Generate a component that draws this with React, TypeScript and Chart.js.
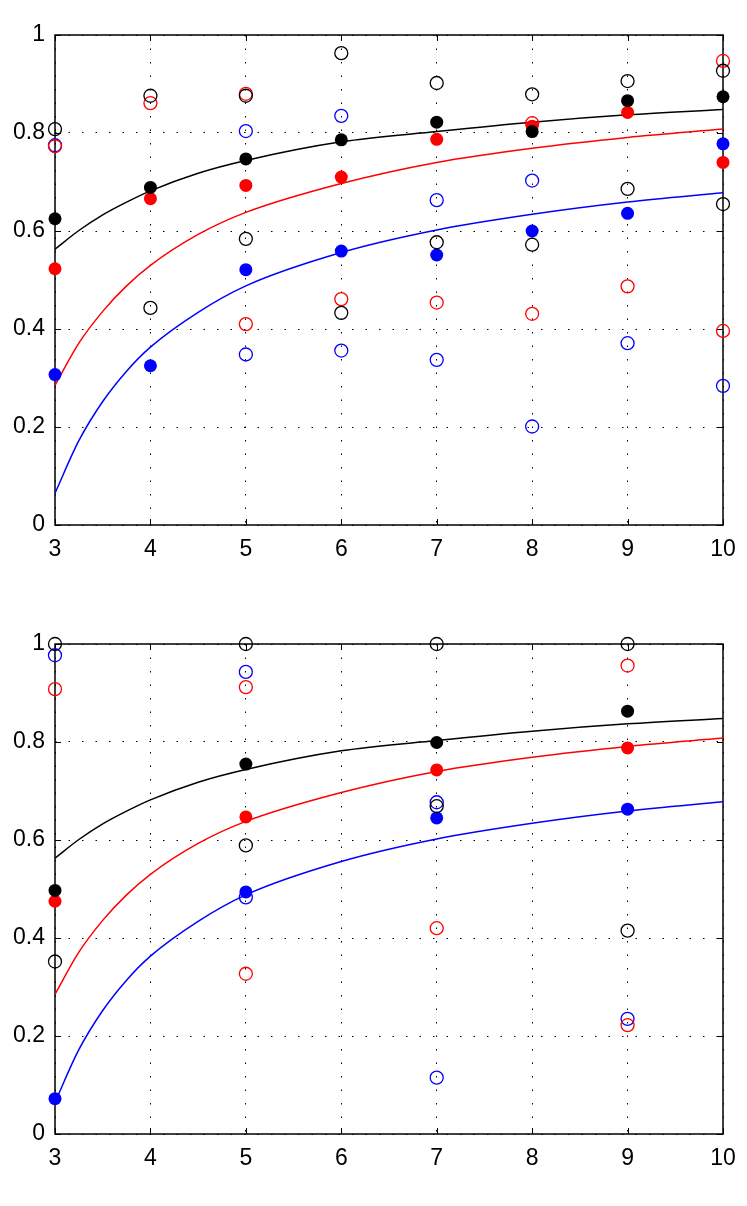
import React, { useEffect, useRef } from "react"
import { Chart, registerables } from "chart.js"

Chart.register(...registerables)

// x positions of the two panels
const xTop = [3, 4, 5, 6, 7, 8, 9, 10]
const xBottom = [3, 5, 7, 9]

// top panel markers
const topBlackFilled = [0.625, 0.689, 0.747, 0.786, 0.822, 0.803, 0.866, 0.874]
const topRedFilled = [0.523, 0.666, 0.693, 0.71, 0.787, 0.814, 0.842, 0.74]
const topBlueFilled = [0.307, 0.325, 0.521, 0.559, 0.551, 0.6, 0.636, 0.778]
const topBlackOpenHi = [0.808, 0.876, 0.876, 0.963, 0.902, 0.879, 0.906, 0.927]
const topBlackOpenLo = [null, 0.443, 0.584, 0.433, 0.577, 0.572, 0.686, 0.655]
const topRedOpenHi = [0.773, 0.861, 0.88, null, null, 0.82, null, 0.947]
const topRedOpenLo = [null, null, 0.41, 0.461, 0.454, 0.431, 0.487, 0.396]
const topBlueOpenHi = [0.775, null, 0.804, 0.835, 0.663, 0.703, null, null]
const topBlueOpenLo = [null, null, 0.348, 0.356, 0.337, 0.201, 0.371, 0.284]

// bottom panel markers
const botBlackFilled = [0.497, 0.755, 0.799, 0.863]
const botRedFilled = [0.475, 0.647, 0.743, 0.788]
const botBlueFilled = [0.072, 0.494, 0.645, 0.663]
const botBlackOpenHi = [1.0, 1.0, 1.0, 1.0]
const botBlackOpenLo = [0.352, 0.589, 0.669, 0.415]
const botRedOpenHi = [0.908, 0.912, null, 0.956]
const botRedOpenLo = [null, 0.327, 0.42, 0.222]
const botBlueOpenHi = [0.977, 0.943, 0.677, null]
const botBlueOpenLo = [null, 0.483, 0.115, 0.235]

// fitted curves (same in both panels)
const curveX = [3, 3.25, 3.5, 3.75, 4, 4.5, 5, 6, 7, 8, 9, 10]
const curveBlack = [0.563, 0.601, 0.633, 0.659, 0.682, 0.718, 0.744, 0.782, 0.803, 0.822, 0.837, 0.848]
const curveRed = [0.285, 0.371, 0.436, 0.488, 0.53, 0.593, 0.638, 0.697, 0.74, 0.769, 0.791, 0.808]
const curveBlue = [0.065, 0.172, 0.252, 0.314, 0.363, 0.434, 0.488, 0.556, 0.602, 0.634, 0.659, 0.678]

const BLACK = "#000000"
const RED = "#ff0000"
const BLUE = "#0000ff"

function pts(xs: number[], ys: (number | null)[]) {
  return xs.map((x, i) => ({ x, y: ys[i] })).filter((p) => p.y !== null)
}

function markers(xs: number[], ys: (number | null)[], color: string, filled: boolean, order: number) {
  return {
    type: "scatter",
    data: pts(xs, ys),
    order,
    clip: false,
    pointRadius: 6.5,
    pointHoverRadius: 6.5,
    pointBorderWidth: filled ? 0 : 1.3,
    pointBackgroundColor: filled ? color : "transparent",
    pointBorderColor: color,
    showLine: false,
  }
}

function curve(ys: number[], color: string) {
  return {
    type: "line",
    data: pts(curveX, ys),
    order: 10,
    borderColor: color,
    borderWidth: 1.5,
    pointRadius: 0,
    fill: false,
    cubicInterpolationMode: "monotone",
  }
}

// MATLAB style box with inward ticks on all four sides
const boxPlugin = {
  id: "box",
  beforeDatasetsDraw(chart: any) {
    const { ctx, chartArea: a, scales } = chart
    const tl = 6
    ctx.save()
    ctx.strokeStyle = "#000"
    ctx.lineWidth = 1
    ctx.beginPath()
    scales.x.ticks.forEach((t: any) => {
      const px = Math.round(scales.x.getPixelForValue(t.value)) + 0.5
      ctx.moveTo(px, a.bottom)
      ctx.lineTo(px, a.bottom - tl)
      ctx.moveTo(px, a.top)
      ctx.lineTo(px, a.top + tl)
    })
    scales.y.ticks.forEach((t: any) => {
      const py = Math.round(scales.y.getPixelForValue(t.value)) + 0.5
      ctx.moveTo(a.left, py)
      ctx.lineTo(a.left + tl, py)
      ctx.moveTo(a.right, py)
      ctx.lineTo(a.right - tl, py)
    })
    ctx.stroke()
    ctx.lineWidth = 1.5
    ctx.strokeRect(a.left, a.top, a.right - a.left, a.bottom - a.top)
    ctx.restore()
  },
}

const tickFont = { family: "'Liberation Sans', Arial, sans-serif", size: 23 }

function Panel(props: { top: number; datasets: any[] }) {
  const ref = useRef<HTMLCanvasElement>(null)

  useEffect(() => {
    let chart: Chart | null = null
    if (ref.current) {
      chart = new Chart(ref.current, {
        type: "scatter",
        data: { datasets: props.datasets },
        plugins: [boxPlugin],
        options: {
          animation: false,
          responsive: true,
          maintainAspectRatio: false,
          layout: { padding: { top: 35, right: 24, left: 0, bottom: 0 } },
          plugins: { legend: { display: false }, tooltip: { enabled: false } },
          scales: {
            x: {
              type: "linear",
              min: 3,
              max: 10,
              ticks: { stepSize: 1, font: tickFont, color: "#000", padding: 11 },
              grid: { color: "#000", lineWidth: 1, drawTicks: false },
              border: { display: false, dash: [1.5, 12] },
              afterFit: (s: any) => {
                s.height = 55
              },
            },
            y: {
              min: 0,
              max: 1,
              ticks: {
                stepSize: 0.2,
                font: tickFont,
                color: "#000",
                padding: 10,
                callback: (v: any) => String(Math.round(Number(v) * 10) / 10),
              },
              grid: { color: "#000", lineWidth: 1, drawTicks: false },
              border: { display: false, dash: [1.5, 12] },
              afterFit: (s: any) => {
                s.width = 55
              },
            },
          },
        },
      } as any)
    }
    return () => {
      chart?.destroy()
    }
  }, [])

  return (
    <div style={{ position: "absolute", left: 0, top: props.top, width: 747, height: 580 }}>
      <canvas ref={ref} />
    </div>
  )
}

const topSets = [
  markers(xTop, topBlackFilled, BLACK, true, 1),
  markers(xTop, topBlackOpenHi, BLACK, false, 2),
  markers(xTop, topBlackOpenLo, BLACK, false, 2),
  markers(xTop, topRedFilled, RED, true, 3),
  markers(xTop, topRedOpenHi, RED, false, 4),
  markers(xTop, topRedOpenLo, RED, false, 4),
  markers(xTop, topBlueFilled, BLUE, true, 5),
  markers(xTop, topBlueOpenHi, BLUE, false, 6),
  markers(xTop, topBlueOpenLo, BLUE, false, 6),
  curve(curveBlack, BLACK),
  curve(curveRed, RED),
  curve(curveBlue, BLUE),
]

const bottomSets = [
  markers(xBottom, botBlackFilled, BLACK, true, 1),
  markers(xBottom, botBlackOpenHi, BLACK, false, 2),
  markers(xBottom, botBlackOpenLo, BLACK, false, 2),
  markers(xBottom, botRedFilled, RED, true, 3),
  markers(xBottom, botRedOpenHi, RED, false, 4),
  markers(xBottom, botRedOpenLo, RED, false, 4),
  markers(xBottom, botBlueFilled, BLUE, true, 5),
  markers(xBottom, botBlueOpenHi, BLUE, false, 6),
  markers(xBottom, botBlueOpenLo, BLUE, false, 6),
  curve(curveBlack, BLACK),
  curve(curveRed, RED),
  curve(curveBlue, BLUE),
]

export default function App() {
  return (
    <div style={{ position: "absolute", left: 0, top: 0, width: 747, height: 1200, background: "#fff" }}>
      <Panel top={0} datasets={topSets} />
      <Panel top={609} datasets={bottomSets} />
    </div>
  )
}
